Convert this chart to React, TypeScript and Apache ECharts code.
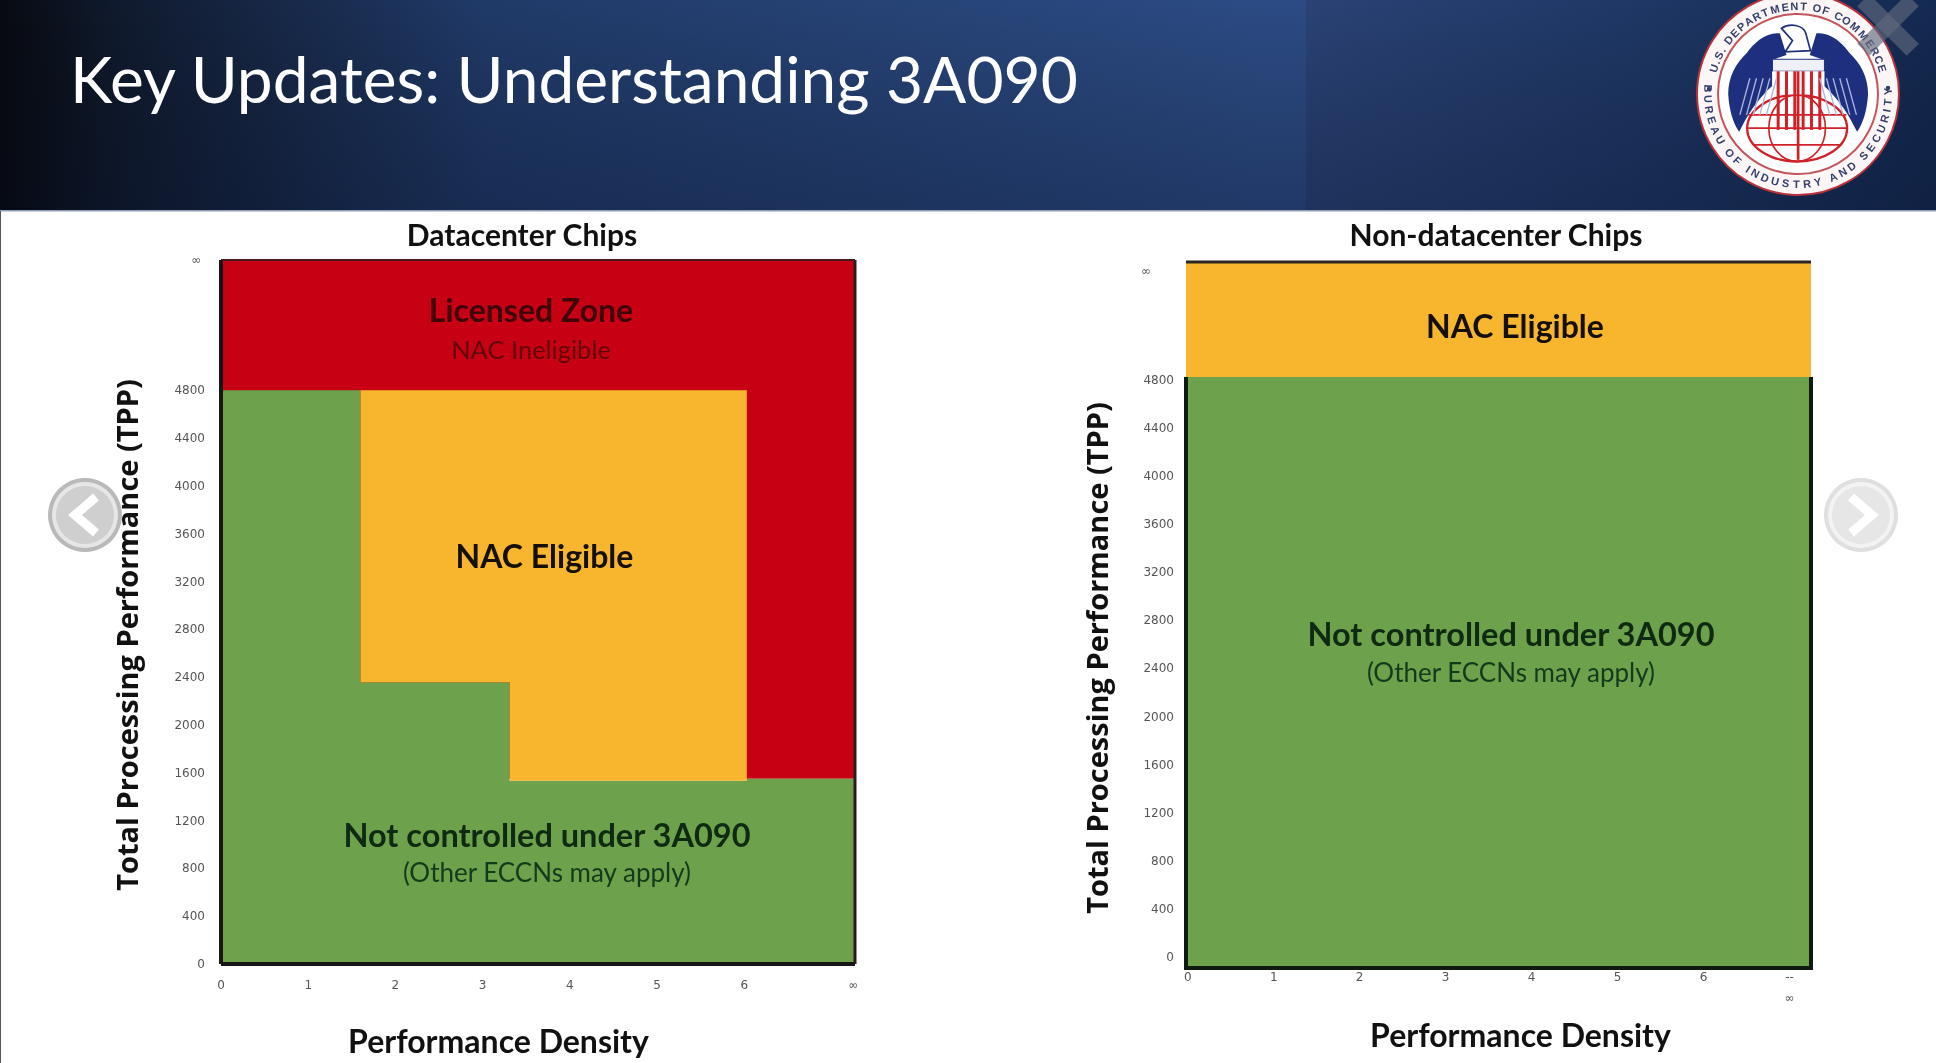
import React, { useEffect, useRef } from "react";
import * as echarts from "echarts";

const densityTicks = [0, 1, 2, 3, 4, 5, 6];
const tppTicks = [0, 400, 800, 1200, 1600, 2000, 2400, 2800, 3200, 3600, 4000, 4400, 4800];

const leftXMax = 7.27;
const leftXInf = 7.25;
const leftYMax = 5890;
const rightXMin = -0.02;
const rightXMax = 7.25;
const rightXInf = 7;
const rightYMin = -92;
const rightYMax = 5782;
const rightYInf = 5707;

const leftRed = [[0, 1550], [0, leftYMax], [leftXMax, leftYMax], [leftXMax, 1550]];
const leftGreen = [[0, 0], [0, 4800], [1.6, 4800], [1.6, 2358], [3.31, 2358], [3.31, 1533], [6.03, 1533], [6.03, 1550], [leftXMax, 1550], [leftXMax, 0]];
const leftYellow = [[1.6, 4800], [6.03, 4800], [6.03, 1533], [3.31, 1533], [3.31, 2358], [1.6, 2358]];

const rightYellow = [[rightXMin, 4825], [rightXMin, rightYMax], [rightXMax, rightYMax], [rightXMax, 4825]];
const rightGreen = [[rightXMin, rightYMin], [rightXMin, 4825], [rightXMax, 4825], [rightXMax, rightYMin]];

const RED = "#c70014";
const GREEN = "#6ea14b";
const YELLOW = "#f8b62f";
const FONT = "Lato";

echarts.graphic.registerShape("sealWingL", echarts.graphic.extendPath("M540,100 C500,95 462,128 440,160 C408,190 385,232 385,282 C388,332 400,370 418,396 C440,350 470,300 517,258 L517,180 L560,165 Z", {}));
echarts.graphic.registerShape("sealWingR", echarts.graphic.extendPath("M650,100 C690,95 728,128 750,160 C782,190 805,232 805,282 C802,332 790,370 772,396 C750,350 720,300 673,258 L673,180 L630,165 Z", {}));
echarts.graphic.registerShape("sealHead", echarts.graphic.extendPath("M545,85 C570,68 610,75 618,100 L632,152 L556,156 L578,122 Z", {}));

function zone(ax: number, points: number[][], fill: string, name: string) {
  return {
    type: "custom",
    name,
    coordinateSystem: "cartesian2d",
    xAxisIndex: ax,
    yAxisIndex: ax,
    clip: false,
    silent: true,
    data: points,
    renderItem: (p: any, api: any) => {
      if (p.dataIndex !== 0) return null;
      return { type: "polygon", shape: { points: points.map((q) => api.coord(q)) }, style: { fill } };
    },
  };
}
function frame(ax: number, points: number[][], stroke: string, lineWidth: number) {
  return {
    type: "custom",
    coordinateSystem: "cartesian2d",
    xAxisIndex: ax,
    yAxisIndex: ax,
    clip: false,
    silent: true,
    z: 5,
    data: points,
    renderItem: (p: any, api: any) => {
      if (p.dataIndex !== 0) return null;
      return { type: "polyline", shape: { points: points.map((q) => api.coord(q)) }, style: { fill: null, stroke, lineWidth } };
    },
  };
}

function label(text: string, x: number, y: number, size: number, fill: string, weight: any) {
  return { type: "text", x, y, z: 20, style: { text, fontFamily: FONT, fontSize: size, fontWeight: weight, fill, textAlign: "center", textVerticalAlign: "middle" } };
}

const slot = (c: string) => (c === " " || c === "." ? 0.5 : c === "I" ? 0.55 : c === "M" ? 1.3 : 1);

function arcText(text: string, cx: number, cy: number, r: number, a0: number, a1: number, top: boolean) {
  const chars = Array.from(text);
  const total = chars.reduce((s, c) => s + slot(c), 0);
  let run = 0;
  return chars.map((c) => {
    const mid = run + slot(c) / 2;
    run += slot(c);
    const a = ((a0 + (mid / total) * (a1 - a0)) * Math.PI) / 180;
    const x = cx + r * Math.sin(a);
    const y = top ? cy - r * Math.cos(a) : cy + r * Math.cos(a);
    return {
      type: "text", x, y, rotation: top ? -a : a, z: 32,
      style: { text: c, fontFamily: "Liberation Sans", fontWeight: "bold", fontSize: 11, fill: "#35406f", textAlign: "center", textVerticalAlign: "middle" },
    };
  });
}

function sealGraphic() {
  const cx = 1798, cy = 94;
  const out: any[] = [
    { type: "circle", z: 30, shape: { cx, cy, r: 101 }, style: { fill: "#fdf6f6", stroke: "#b8323c", lineWidth: 2 } },
    { type: "circle", z: 31, shape: { cx, cy, r: 80 }, style: { fill: "#fff", stroke: "#c2565c", lineWidth: 2 } },
    { type: "circle", z: 31, shape: { cx: 1709, cy: 89, r: 2.2 }, style: { fill: "#35406f" } },
    { type: "circle", z: 31, shape: { cx: 1888, cy: 88, r: 2.2 }, style: { fill: "#35406f" } },
    ...arcText("U.S. DEPARTMENT OF COMMERCE", cx, cy, 88, -76, 76, true),
    ...arcText("BUREAU OF INDUSTRY AND SECURITY", cx, cy, 90, -97, 95, false),
  ];
  const inner: any[] = [
    { type: "ellipse", shape: { cx: 592, cy: 385, rx: 150, ry: 100 }, style: { fill: "#fff", stroke: "#d02028", lineWidth: 7 } },
    { type: "ellipse", shape: { cx: 592, cy: 385, rx: 85, ry: 100 }, style: { fill: "none", stroke: "#d02028", lineWidth: 5 } },
    { type: "line", shape: { x1: 445, y1: 345, x2: 740, y2: 345 }, style: { stroke: "#d02028", lineWidth: 5 } },
    { type: "line", shape: { x1: 445, y1: 385, x2: 740, y2: 385 }, style: { stroke: "#d02028", lineWidth: 5 } },
    { type: "line", shape: { x1: 460, y1: 435, x2: 725, y2: 435 }, style: { stroke: "#d02028", lineWidth: 5 } },
    { type: "sealWingL", style: { fill: "#1f2f80" } },
    { type: "sealWingR", style: { fill: "#1f2f80" } },
    { type: "sealHead", style: { fill: "#fff", stroke: "#1f2f80", lineWidth: 5 } },
    { type: "rect", shape: { x: 518, y: 178, width: 156, height: 36 }, style: { fill: "#eef0f6", stroke: "#1f2f80", lineWidth: 3 } },
    { type: "rect", shape: { x: 518, y: 214, width: 156, height: 70 }, style: { fill: "#fff" } },
    ...[535, 560, 585, 610, 635, 660].map((x) => ({ type: "line", shape: { x1: x, y1: 214, x2: x, y2: 390 }, style: { stroke: "#d02028", lineWidth: 9 } })),
    { type: "line", shape: { x1: 595, y1: 214, x2: 595, y2: 480 }, style: { stroke: "#d02028", lineWidth: 8 } },
    ...[420, 440, 460, 480, 500].map((x) => ({ type: "line", shape: { x1: x, y1: 345, x2: x + 30, y2: 235 }, style: { stroke: "#aab6dd", lineWidth: 4 } })),
    ...[770, 750, 730, 710, 690].map((x) => ({ type: "line", shape: { x1: x, y1: 345, x2: x - 30, y2: 235 }, style: { stroke: "#aab6dd", lineWidth: 4 } })),
  ];
  out.push({ type: "group", x: 1600, y: 0, scaleX: 1 / 3, scaleY: 1 / 3, z: 31, children: inner.map((e) => ({ ...e, z: 31 })) });
  return out;
}

function buttons() {
  const chev = (pts: number[][]) => ({ type: "polyline", z: 42, shape: { points: pts }, style: { fill: null, stroke: "#fff", lineWidth: 9 } });
  return [
    { type: "circle", z: 40, shape: { cx: 85, cy: 515, r: 37 }, style: { fill: "#b9b9b9" } },
    { type: "circle", z: 41, shape: { cx: 85, cy: 515, r: 33 }, style: { fill: "#e6e6e6" } },
    { type: "circle", z: 41, shape: { cx: 85, cy: 515, r: 29 }, style: { fill: "#cfcfcf" } },
    chev([[96, 497], [75, 515], [96, 533]]),
    { type: "circle", z: 40, shape: { cx: 1861, cy: 515, r: 37 }, style: { fill: "#dfdfdf" } },
    { type: "circle", z: 41, shape: { cx: 1861, cy: 515, r: 33 }, style: { fill: "#f3f3f3" } },
    { type: "circle", z: 41, shape: { cx: 1861, cy: 515, r: 29 }, style: { fill: "#e6e6e6" } },
    chev([[1851, 497], [1872, 515], [1851, 533]]),
  ];
}

function xAxis(min: number, max: number, inf: number, infLabel: string, margin: number, gridIndex: number, padding: number[], nameGap: number) {
  return {
    type: "value", gridIndex, min, max, name: "Performance Density", nameLocation: "middle", nameGap,
    nameTextStyle: { fontFamily: FONT, fontWeight: "bold", fontSize: 32, color: "#111", padding },
    axisLine: { show: false }, axisTick: { show: false }, splitLine: { show: false },
    axisLabel: {
      customValues: [...densityTicks, inf], margin, color: "#555", fontFamily: "DejaVu Sans", fontSize: 12, lineHeight: 21,
      formatter: (v: number) => (v === inf ? infLabel : String(v)),
    },
  };
}
function yAxis(min: number, max: number, inf: number, infLabel: string, margin: number, gridIndex: number, padding: number[], nameGap: number) {
  return {
    type: "value", gridIndex, min, max, name: "Total Processing Performance (TPP)", nameLocation: "middle", nameGap,
    nameTextStyle: { fontFamily: "Open Sans", fontWeight: "bold", fontSize: 29, color: "#111", padding },
    axisLine: { show: false }, axisTick: { show: false }, splitLine: { show: false },
    axisLabel: {
      customValues: [...tppTicks, inf], margin, color: "#555", fontFamily: "DejaVu Sans", fontSize: 12,
      formatter: (v: number) => (v === inf ? infLabel : String(v)),
    },
  };
}

export default function App() {
  const ref = useRef<HTMLDivElement>(null);
  useEffect(() => {
    const chart = echarts.init(ref.current!, undefined, { renderer: "svg" });
    chart.setOption({
      animation: false,
      backgroundColor: "#fff",
      title: [
        { text: "Key Updates: Understanding 3A090", left: 65, top: 41, textStyle: { color: "#fff", fontFamily: FONT, fontSize: 64, fontWeight: "normal" }, z: 20 },
        { text: "Datacenter Chips", left: 517, top: 214, textAlign: "center", textStyle: { color: "#111", fontFamily: FONT, fontSize: 30, fontWeight: "bold" } },
        { text: "Non-datacenter Chips", left: 1491, top: 214, textAlign: "center", textStyle: { color: "#111", fontFamily: FONT, fontSize: 30, fontWeight: "bold" } },
      ],
      grid: [
        { left: 221, top: 260, width: 634, height: 704 },
        { left: 1186, top: 262, width: 625, height: 706 },
      ],
      xAxis: [
        xAxis(0, leftXMax, leftXInf, "∞", 10, 0, [0, 79, 0, 0], 60),
        xAxis(rightXMin, rightXMax, rightXInf, "--\n∞", -2, 1, [0, 0, 0, 44], 50),
      ],
      yAxis: [
        yAxis(0, leftYMax, leftYMax, "∞ ", 16, 0, [0, 46, 0, 0], 80),
        yAxis(rightYMin, rightYMax, rightYInf, "∞      ", 12, 1, [0, 86, 0, 0], 75),
      ],
      series: [
        zone(0, leftRed, RED, "Licensed Zone"),
        zone(0, leftGreen, GREEN, "Not controlled under 3A090"),
        zone(0, leftYellow, YELLOW, "NAC Eligible"),
        frame(0, [[0, leftYMax], [0, 0]], "#161616", 4),
        frame(0, [[0, 0], [leftXMax, 0]], "#161616", 4),
        frame(0, [[0, leftYMax], [leftXMax, leftYMax]], "#4a1a1e", 2),
        frame(0, [[leftXMax, leftYMax], [leftXMax, 0]], "#2a1a1a", 3),
        zone(1, rightYellow, YELLOW, "NAC Eligible"),
        zone(1, rightGreen, GREEN, "Not controlled under 3A090"),
        frame(1, [[rightXMin, rightYMax], [rightXMax, rightYMax]], "#2a2420", 3),
        frame(1, [[rightXMin, 4825], [rightXMin, rightYMin], [rightXMax, rightYMin], [rightXMax, 4825]], "#111a10", 4),
      ],
      graphic: [
        {
          type: "rect", z: 1, shape: { x: 0, y: 0, width: 1936, height: 210 },
          style: { fill: new echarts.graphic.LinearGradient(0, 0, 1, 0, [
            { offset: 0, color: "#070a10" }, { offset: 0.06, color: "#101a2e" }, { offset: 0.25, color: "#203a68" }, { offset: 0.65, color: "#2c4b84" }, { offset: 1, color: "#2c4b84" },
          ]) },
        },
        {
          type: "rect", z: 2, shape: { x: 1306, y: 0, width: 630, height: 210 },
          style: { fill: new echarts.graphic.LinearGradient(0, 0, 1, 0, [
            { offset: 0, color: "#2a4275" }, { offset: 0.5, color: "#1f3866" }, { offset: 1, color: "#142a52" },
          ]) },
        },
        {
          type: "rect", z: 3, shape: { x: 0, y: 0, width: 1936, height: 210 },
          style: { fill: new echarts.graphic.LinearGradient(0, 0, 0, 1, [
            { offset: 0, color: "rgba(0,0,0,0)" }, { offset: 1, color: "rgba(4,10,30,0.28)" },
          ]) },
        },
        { type: "rect", z: 4, shape: { x: 0, y: 210, width: 1936, height: 1.5 }, style: { fill: "#8f9db5" } },
        { type: "line", z: 4, shape: { x1: 0.5, y1: 211, x2: 0.5, y2: 1063 }, style: { stroke: "#555", lineWidth: 1 } },
        ...sealGraphic(),
        { type: "rect", z: 36, shape: { x: -35, y: -8.5, width: 70, height: 17 }, x: 1888, y: 25, rotation: Math.PI / 4, style: { fill: "rgba(95,105,125,0.65)" } },
        { type: "rect", z: 36, shape: { x: -35, y: -8.5, width: 70, height: 17 }, x: 1888, y: 25, rotation: -Math.PI / 4, style: { fill: "rgba(95,105,125,0.65)" } },
        label("Licensed Zone", 531, 309, 32, "#3e0208", "bold"),
        label("NAC Ineligible", 531, 349, 25.5, "#620409", "normal"),
        label("NAC Eligible", 544.5, 555, 32, "#141008", "bold"),
        label("Not controlled under 3A090", 547, 834, 32.5, "#0f2a12", "bold"),
        label("(Other ECCNs may apply)", 547, 872, 26, "#143a1c", "normal"),
        label("NAC Eligible", 1515, 325, 32, "#141008", "bold"),
        label("Not controlled under 3A090", 1511, 633, 32.5, "#0f2a12", "bold"),
        label("(Other ECCNs may apply)", 1511, 672, 26, "#143a1c", "normal"),
        ...buttons(),
      ],
    });
    return () => chart.dispose();
  }, []);
  return <div ref={ref} style={{ position: "fixed", left: 0, top: 0, width: 1936, height: 1063, filter: "blur(0.5px)" }} />;
}
